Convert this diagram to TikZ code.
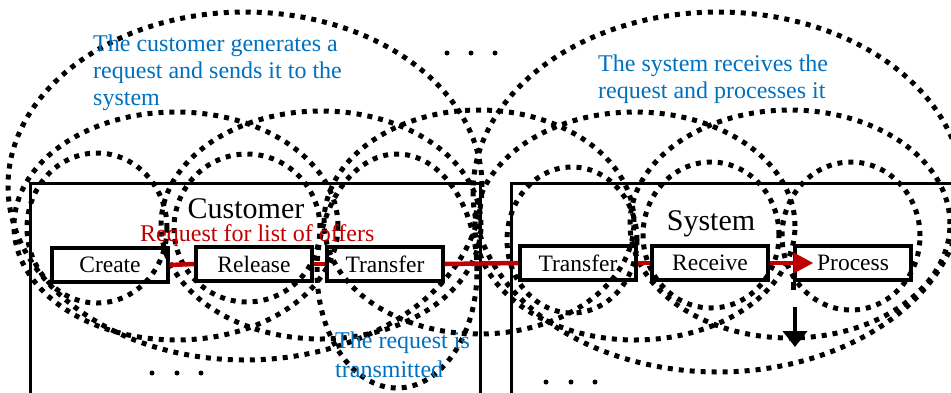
\documentclass[tikz,border=0pt]{standalone}
\usepackage{fontspec}
\setmainfont{Liberation Serif}
\usetikzlibrary{arrows.meta}
\definecolor{myblue}{HTML}{0070C0}
\definecolor{myred}{HTML}{C00000}
\begin{document}
\begin{tikzpicture}[x=1pt,y=-1pt,
  dotring/.style={line width=5pt, dash pattern=on 5pt off 6pt},
  frame/.style={line width=3pt},
  procbox/.style={draw, line width=3.3pt, minimum width=116pt, minimum height=34pt, inner sep=0pt, font=\fontsize{23.5}{28}\selectfont},
  flow/.style={draw=myred, line width=4.5pt},
  bluetext/.style={text=myblue, align=left, inner sep=0pt, anchor=north west},
  bigtitle/.style={font=\fontsize{30}{36}\selectfont, anchor=base, inner sep=0pt},
  ]
\useasboundingbox (0,0) rectangle (951,392);
% frames
\draw[frame] (30,400) -- (30,183) -- (480,183) -- (480,400);
\draw[frame] (511,400) -- (511,183) -- (960,183) -- (960,400);
% big ellipses
\draw[dotring] (245,186) ellipse [x radius=237pt, y radius=174pt];
\draw[dotring] (718,192) ellipse [x radius=245pt, y radius=180pt];
% middle ellipses
\draw[dotring] (176,226) ellipse [x radius=162pt, y radius=114pt];
\draw[dotring] (321,225) ellipse [x radius=160pt, y radius=114pt];
\draw[dotring] (479,222) ellipse [x radius=155pt, y radius=112pt];
\draw[dotring] (635,226) ellipse [x radius=160pt, y radius=114pt];
\draw[dotring] (790,224) ellipse [x radius=160pt, y radius=114pt];
% small ellipses
\draw[dotring] (97,228) ellipse [x radius=70pt, y radius=75pt];
\draw[dotring] (247,228) ellipse [x radius=73pt, y radius=74pt];
\draw[dotring] (397,271) ellipse [x radius=80pt, y radius=117pt];
\draw[dotring] (572,240) ellipse [x radius=65pt, y radius=73pt];
\draw[dotring] (711,235) ellipse [x radius=68pt, y radius=73pt];
\draw[dotring] (851,236) ellipse [x radius=69pt, y radius=74pt];
% process boxes
\node[procbox] (cr) at (110,265) {Create};
\node[procbox] (rl) at (254,264) {Release};
\node[procbox] (tc) at (385,264) {Transfer};
\node[procbox] (ts) at (578,263) {Transfer};
\node[procbox] (rc) at (710,263) {Receive};
\node[procbox] (pr) at (853,263) {Process};
% red flow
\draw[flow] (cr.east) -- (rl.west);
\draw[flow] (rl) -- (tc);
\draw[flow] (tc.east) -- (ts.west);
\draw[flow] (ts) -- (rc);
\draw[flow, -{Triangle[length=20pt,width=20pt]}] (rc.east) -- ([xshift=20pt]pr.west);
% black down arrow
\coordinate (a0) at (795,307);
\coordinate (a1) at (795,347);
\draw[line width=4.5pt] (pr.south west) -- ++(0,8);
\draw[line width=4.5pt, -{Triangle[length=16pt,width=24pt]}] (a0) -- (a1);
% titles
\node[bigtitle] (cu) at (246,218) {Customer};
\node[bigtitle] (sy) at (711,230) {System};
\node[text=myred, font=\fontsize{24}{28}\selectfont, anchor=base west, inner sep=0pt] (rq) at (140,241) {Request for list of offers};
% blue notes
\node[bluetext, font=\fontsize{24}{26.6}\selectfont] (t1) at (93,35) {The customer generates a\\request and sends it to the\\system};
\node[bluetext, font=\fontsize{24}{27}\selectfont] (t2) at (598,55) {The system receives the\\request and processes it};
\node[bluetext, font=\fontsize{24}{29}\selectfont] (t3) at (335,332) {The request is\\transmitted};
% ellipsis dots
\foreach \px in {447,471,495} \fill (\px,53) circle (2.5pt);
\foreach \px in {152,177,201} \fill (\px,373) circle (2.5pt);
\foreach \px in {546,571,595} \fill (\px,382) circle (2.5pt);
\end{tikzpicture}
\end{document}
